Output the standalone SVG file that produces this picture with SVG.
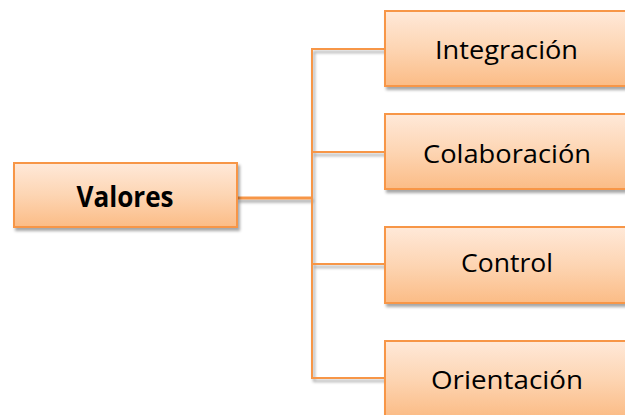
<svg xmlns="http://www.w3.org/2000/svg" width="625" height="415" viewBox="0 0 625 415">
<defs>
<linearGradient id="g" x1="0" y1="0" x2="0" y2="1">
<stop offset="0" stop-color="#FFE9D9"/>
<stop offset="0.5" stop-color="#FDD5B3"/>
<stop offset="1" stop-color="#FBBC86"/>
</linearGradient>
<filter id="sh" filterUnits="userSpaceOnUse" x="0" y="0" width="625" height="415">
<feDropShadow dx="2" dy="3" stdDeviation="1.8" flood-color="#000" flood-opacity="0.35"/>
</filter>
</defs>
<style>
.box{fill:url(#g);stroke:#F79646;stroke-width:2;filter:url(#sh)}
.ln{fill:none;stroke:#F79646;stroke-width:2}
.t{font-family:"Open Sans","Liberation Sans",sans-serif;font-size:25.5px;fill:#000;text-anchor:middle}
.b{font-weight:bold;font-size:28px}
</style>
<rect width="625" height="415" fill="#fff"/>
<g id="connectors" filter="url(#sh)">
<path class="ln" d="M385 49 H312 V378 H385"/>
<path class="ln" d="M312 152 H385"/>
<path class="ln" d="M312 264 H385"/>
<path class="ln" d="M237 198 H312" style="stroke-width:3"/>
</g>
<g id="valores">
<rect class="box" x="14" y="163" width="223" height="64"/>
<text class="t b" x="125" y="207" textLength="97" lengthAdjust="spacingAndGlyphs">Valores</text>
</g>
<g id="integracion">
<rect class="box" x="385" y="11" width="244" height="75"/>
<text class="t" x="506.5" y="59" textLength="143" lengthAdjust="spacingAndGlyphs">Integración</text>
</g>
<g id="colaboracion">
<rect class="box" x="385" y="114" width="244" height="75"/>
<text class="t" x="507" y="163" textLength="168" lengthAdjust="spacingAndGlyphs">Colaboración</text>
</g>
<g id="control">
<rect class="box" x="385" y="227" width="244" height="76"/>
<text class="t" x="507" y="272" textLength="92" lengthAdjust="spacingAndGlyphs">Control</text>
</g>
<g id="orientacion">
<rect class="box" x="385" y="341" width="244" height="76"/>
<text class="t" x="507" y="389" textLength="152" lengthAdjust="spacingAndGlyphs">Orientación</text>
</g>
</svg>
